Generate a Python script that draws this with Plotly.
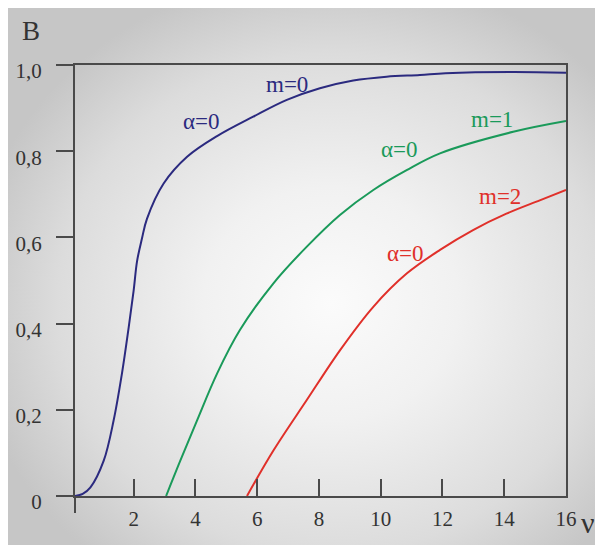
import base64
import plotly.graph_objects as go

# ---- data ----
blue_x = [0.1, 0.35, 0.6, 1.03, 1.35, 1.62, 1.84, 2.0, 2.11, 2.27, 2.43, 2.97, 3.73, 4.7, 5.87, 6.96, 8.03, 9.11, 10.19, 11.27, 12.1, 14.3, 16.0]
blue_y = [0.0, 0.005, 0.02, 0.082, 0.175, 0.284, 0.392, 0.477, 0.545, 0.598, 0.643, 0.725, 0.787, 0.835, 0.880, 0.919, 0.946, 0.964, 0.973, 0.977, 0.981, 0.984, 0.982]

green_x = [3.05, 3.51, 4.05, 4.7, 5.44, 6.52, 7.6, 8.68, 9.76, 10.84, 11.92, 14.29, 16.0]
green_y = [0.0, 0.082, 0.175, 0.284, 0.385, 0.493, 0.578, 0.652, 0.710, 0.756, 0.795, 0.845, 0.87]

red_x = [5.67, 6.53, 7.6, 8.68, 9.76, 10.84, 11.92, 12.99, 14.07, 15.15, 16.0]
red_y = [0.0, 0.106, 0.222, 0.338, 0.439, 0.516, 0.571, 0.617, 0.655, 0.686, 0.71]

x_tickvals = [2, 4, 6, 8, 10, 12, 14, 16]
x_ticktext = ["2", "4", "6", "8", "10", "12", "14", "16"]
y_tickvals = [0, 0.2, 0.4, 0.6, 0.8, 1.0]
y_ticktext = ["0", "0,2", "0,4", "0,6", "0,8", "1,0"]

labels = [
    ("α=0", 4.20, 0.868, "#2b2a7f"),
    ("m=0", 6.97, 0.954, "#2b2a7f"),
    ("m=1", 13.59, 0.874, "#1a9a5a"),
    ("α=0", 10.62, 0.804, "#1a9a5a"),
    ("m=2", 13.86, 0.694, "#e0302a"),
    ("α=0", 10.79, 0.563, "#e0302a"),
]

FONT = "Liberation Serif, 'Times New Roman', DejaVu Serif, serif"
# plot area (figure px): x 67..558, y 57..488  (page body adds an 8px margin)
PW, PH = 491, 431

fig = go.Figure()
for xs, ys, col in [(blue_x, blue_y, "#2b2a7f"), (green_x, green_y, "#1a9a5a"), (red_x, red_y, "#e0302a")]:
    fig.add_trace(go.Scatter(x=xs, y=ys, mode="lines", line=dict(color=col, width=2, shape="spline", smoothing=1.0),
                             showlegend=False, hoverinfo="skip", cliponaxis=False))

for txt, x, y, col in labels:
    fig.add_annotation(x=x, y=y, text=txt, showarrow=False, font=dict(family=FONT, size=23, color=col),
                       xanchor="center", yanchor="middle")

fig.add_annotation(x=(31 - 75) / PW, y=(496 - 31) / PH, xref="paper", yref="paper", text="B",
                   xanchor="center", yanchor="middle",
                   showarrow=False, font=dict(family=FONT, size=27, color="#333333"))
fig.add_annotation(x=(588 - 75) / PW, y=(496 - 522) / PH, xref="paper", yref="paper", text="ν",
                   xanchor="center", yanchor="middle",
                   showarrow=False, font=dict(family=FONT, size=30, color="#333333"))

# y-axis extension below the x-axis
fig.add_shape(type="line", xref="paper", yref="paper", x0=0, x1=0, y0=0, y1=-17 / PH,
              line=dict(color="#4a4a4a", width=2))

svg = """<svg xmlns='http://www.w3.org/2000/svg' width='587' height='537' viewBox='0 0 587 537' preserveAspectRatio='none'>
<defs><radialGradient id='g' cx='0.55' cy='0.55' r='0.62'>
<stop offset='0' stop-color='#fbfbfb'/><stop offset='0.35' stop-color='#f1f1f1'/>
<stop offset='0.75' stop-color='#dcdcdc'/><stop offset='1' stop-color='#c6c6c6'/>
</radialGradient></defs><rect width='587' height='537' fill='url(#g)'/></svg>"""
uri = "data:image/svg+xml;base64," + base64.b64encode(svg.encode()).decode()
fig.add_layout_image(source=uri, xref="paper", yref="paper", x=-67 / PW, y=488 / PH,
                     sizex=587 / PW, sizey=537 / PH, sizing="stretch", layer="below",
                     xanchor="left", yanchor="top")

fig.update_layout(
    width=595, height=541,
    margin=dict(l=67, r=37, t=57, b=53, autoexpand=False),
    paper_bgcolor="white", plot_bgcolor="rgba(0,0,0,0)",
    xaxis=dict(range=[0.1, 16], tickvals=x_tickvals, ticktext=x_ticktext, ticks="inside", ticklen=17,
               tickwidth=1.5, tickcolor="#4a4a4a", showline=True, linecolor="#4a4a4a", linewidth=2,
               mirror=True, showgrid=False, zeroline=False, ticklabelstandoff=3, automargin=False,
               tickfont=dict(family=FONT, size=21, color="#333333")),
    yaxis=dict(range=[0, 1], tickvals=y_tickvals, ticktext=y_ticktext, ticks="outside", ticklen=17,
               tickwidth=1.5, tickcolor="#4a4a4a", showline=True, linecolor="#4a4a4a", linewidth=2,
               mirror=True, showgrid=False, zeroline=False, ticklabelstandoff=10, ticklabelshift=6,
               automargin=False, tickfont=dict(family=FONT, size=21, color="#333333")),
)

fig.write_html("out.html")
